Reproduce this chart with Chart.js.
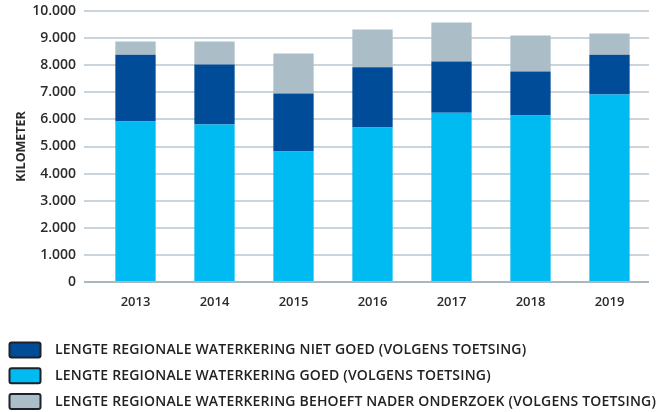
<!DOCTYPE html>
<html><head><meta charset="utf-8">
<script src="https://cdn.jsdelivr.net/npm/chart.js@4/dist/chart.umd.min.js"></script>
<style>html,body{margin:0;padding:0;background:#fff}#wrap{width:660px;height:412px}</style>
</head><body><div id="wrap"><canvas id="c"></canvas></div>
<script>
const years = ['2013','2014','2015','2016','2017','2018','2019'];
const goed = [5920, 5810, 4820, 5700, 6250, 6140, 6920];
const nietGoed = [2470, 2220, 2140, 2220, 1890, 1630, 1470];
const naderOnderzoek = [480, 840, 1470, 1400, 1440, 1330, 780];
const seriesNames = [
  'LENGTE REGIONALE WATERKERING GOED (VOLGENS TOETSING)',
  'LENGTE REGIONALE WATERKERING NIET GOED (VOLGENS TOETSING)',
  'LENGTE REGIONALE WATERKERING BEHOEFT NADER ONDERZOEK (VOLGENS TOETSING)'
];
const legendOrder = [1, 0, 2];
const colors = ['#00BAF2', '#004C98', '#ABBDC6'];

// legend drawn on the chart canvas from the chart's own datasets
const rowLegend = {
  id: 'rowLegend',
  afterDraw(chart) {
    const ctx = chart.ctx;
    ctx.save();
    ctx.font = '600 14px "Open Sans"';
    ctx.letterSpacing = '0px';
    const longest = chart.data.datasets.reduce((a, d) => d.label.length > a.length ? d.label : a, '');
    const w0 = ctx.measureText(longest).width;
    const spacing = Math.max(0, (601 - w0) / longest.length);
    ctx.letterSpacing = spacing.toFixed(2) + 'px';
    ctx.textBaseline = 'middle';
    ctx.textAlign = 'left';
    legendOrder.forEach((di, row) => {
      const ds = chart.data.datasets[di];
      const cy = 350 + row * 25.8;
      ctx.beginPath();
      ctx.roundRect(9.5, cy - 7.5, 31, 15, 2);
      ctx.fillStyle = ds.backgroundColor;
      ctx.fill();
      ctx.lineWidth = 2;
      ctx.strokeStyle = '#1d2129';
      ctx.stroke();
      ctx.fillStyle = '#222222';
      ctx.fillText(ds.label, 55, cy + 0.5);
    });
    ctx.restore();
  }
};

new Chart(document.getElementById('c'), {
  type: 'bar',
  data: {
    labels: years,
    datasets: [goed, nietGoed, naderOnderzoek].map((d, i) => ({
      label: seriesNames[i], data: d, backgroundColor: colors[i],
      borderWidth: 0, barPercentage: 1, categoryPercentage: 0.51
    }))
  },
  options: {
    responsive: true, maintainAspectRatio: false, animation: false,
    layout: { padding: { top: 11, right: 11, left: 0, bottom: 90 } },
    plugins: {
      tooltip: { enabled: false },
      legend: { display: false }
    },
    scales: {
      x: {
        stacked: true,
        grid: { display: false, drawTicks: false },
        border: { display: false },
        ticks: { padding: 12, color: '#2b2b2b', font: { family: 'Open Sans', size: 13, weight: '600' } },
        afterFit(s) { s.height = 40; }
      },
      y: {
        stacked: true, min: 0, max: 10000,
        ticks: {
          stepSize: 1000, padding: 8, color: '#2b2b2b',
          font: { family: 'Open Sans', size: 14, weight: '600' },
          callback: v => v === 0 ? '0' : (v / 1000).toFixed(3)
        },
        grid: {
          color: ctx => ctx.index === 0 ? '#A9B7C1' : '#C9D4DC',
          lineWidth: 2, tickLength: 12
        },
        border: { display: false },
        title: {
          display: true, text: 'KILOMETER', color: '#2b2b2b',
          font: { family: 'Open Sans', size: 12.5, weight: '700' },
          padding: { top: 13.5, bottom: 0 }
        },
        afterFit(s) { s.width = 96; s.paddingTop = 0; s.paddingBottom = 0; }
      }
    }
  },
  plugins: [rowLegend]
});
</script></body></html>
